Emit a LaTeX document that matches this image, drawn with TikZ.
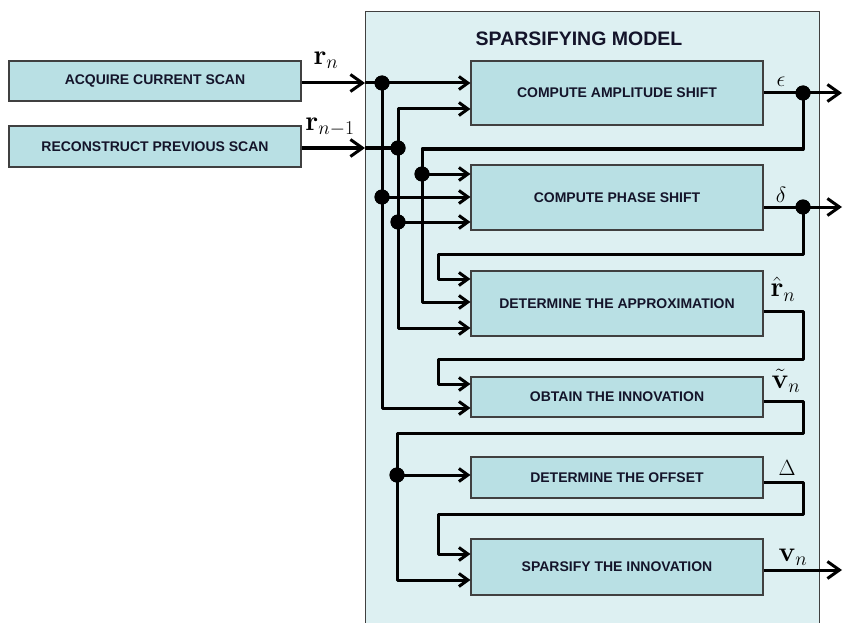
\RequirePackage{fix-cm}
\documentclass[tikz,border=0pt]{standalone}
\usepackage[no-math]{fontspec}
\setmainfont{Liberation Sans}
\usepackage{amsmath}
\usetikzlibrary{arrows.meta}
\definecolor{boxfill}{HTML}{B9E0E4}
\definecolor{modelfill}{HTML}{DDF0F2}
\definecolor{txt}{HTML}{14142A}
\begin{document}
\begin{tikzpicture}[x=1pt,y=-1pt,
  blk/.style={draw=black!75, line width=1.1pt, fill=boxfill, minimum width=292pt, inner sep=0pt,
    font=\fontsize{14}{16}\selectfont\bfseries, text=txt},
  wire/.style={line width=3pt, line join=round},
  arr/.style={wire, -{Straight Barb[length=9pt,width=13pt]}},
  bigarr/.style={wire, -{Straight Barb[length=12pt,width=17pt]}},
  dot/.style={circle, fill=black, inner sep=0pt, minimum size=15pt},
  lbl/.style={font=\fontsize{22}{26}\selectfont, inner sep=0pt},
  blbl/.style={font=\fontsize{28}{32}\selectfont, inner sep=0pt}
]
\useasboundingbox (0,0) rectangle (843,623);
% container
\node[draw=black!75, line width=1.4pt, fill=modelfill, minimum width=454pt, minimum height=629pt,
  anchor=north west, inner sep=0pt] (model) at (365,11) {};
\node[font=\fontsize{19.5}{22}\selectfont\bfseries, text=txt] (title) at (579,39) {SPARSIFYING MODEL};
% outside boxes
\node[blk, minimum height=40pt] (acq) at (155,81) {ACQUIRE CURRENT SCAN};
\node[blk, minimum height=41pt] (rec) at (155,146.5) {RECONSTRUCT PREVIOUS SCAN};
% inner boxes
\node[blk, minimum height=64pt] (B1) at (617,93) {COMPUTE AMPLITUDE SHIFT};
\node[blk, minimum height=65pt] (B2) at (617,197.5) {COMPUTE PHASE SHIFT};
\node[blk, minimum height=65pt] (B3) at (617,303.5) {DETERMINE THE APPROXIMATION};
\node[blk, minimum height=40pt] (B4) at (617,397) {OBTAIN THE INNOVATION};
\node[blk, minimum height=41pt] (B5) at (617,477.5) {DETERMINE THE OFFSET};
\node[blk, minimum height=56pt] (B6) at (617,567) {SPARSIFY THE INNOVATION};
% junction dots
\node[dot] (j1) at (382,83) {};
\node[dot] (j2) at (398,148) {};
\node[dot] (j3) at (382,197) {};
\node[dot] (j4) at (398,222) {};
\node[dot] (j5) at (422,174) {};
\node[dot] (j6) at (397,475) {};
\node[dot] (e1) at (803,93) {};
\node[dot] (d1) at (803,207) {};
\coordinate (m1) at (365,83);
\coordinate (m2) at (365,148);
\coordinate (o1) at (842,93);
\coordinate (o2) at (842,207);
\coordinate (o3) at (842,570);
% r_n
\draw[bigarr] (acq.east |- m1) -- (m1);
\draw[arr] (m1) -- (B1.west |- m1);
\draw[arr] (j3.center) -- (B2.west |- j3);
\draw[arr] (j1.center) |- (B4.west |- 0,408);
% r_{n-1}
\draw[bigarr] (rec.east |- m2) -- (m2);
\draw[wire] (m2) -- (j2.center);
\draw[arr] (j2.center) |- (B1.west |- 0,109);
\draw[arr] (j4.center) -- (B2.west |- j4);
\draw[arr] (j2.center) |- (B3.west |- 0,328);
% epsilon
\draw[wire] (B1.east |- e1) -- (e1.center);
\draw[bigarr] (e1.center) -- (o1);
\draw[arr] (e1.center) -- (803,149) -| (j5.center) |- (B3.west |- 0,302);
\draw[arr] (j5.center) -- (B2.west |- j5);
% delta
\draw[wire] (B2.east |- d1) -- (d1.center);
\draw[bigarr] (d1.center) -- (o2);
\draw[arr] (d1.center) |- (438,254) |- (B3.west |- 0,279);
% r hat
\draw[arr] (B3.east |- 0,311) -| (803,359) -| (438,384) -- (B4.west |- 0,384);
% v tilde
\draw[arr] (B4.east |- 0,401) -| (803,433) -| (j6.center) |- (B6.west |- 0,580);
\draw[arr] (j6.center) -- (B5.west |- j6);
% Delta
\draw[arr] (B5.east |- 0,482) -| (803,514) -| (438,554) -- (B6.west |- 0,554);
% v_n
\draw[bigarr] (B6.east |- o3) -- (o3);
% redraw dots on top
\foreach \d in {j1,j2,j3,j4,j5,j6,e1,d1} \fill (\d) circle (7.5pt);
% labels
\node[blbl] (lrn) at (326,60) {$\mathbf{r}_n$};
\node[blbl] (lrn1) at (330,127) {$\mathbf{r}_{n-1}$};
\node[lbl] (leps) at (781,82) {$\epsilon$};
\node[lbl] (ldel) at (781,195) {$\delta$};
\node[blbl] (lrh) at (783,289) {$\hat{\mathbf{r}}_n$};
\node[blbl] (lvt) at (786,381) {$\tilde{\mathbf{v}}_n$};
\node[lbl] (lD) at (787,468) {$\Delta$};
\node[blbl] (lvn) at (793,557) {$\mathbf{v}_n$};
\end{tikzpicture}
\end{document}
